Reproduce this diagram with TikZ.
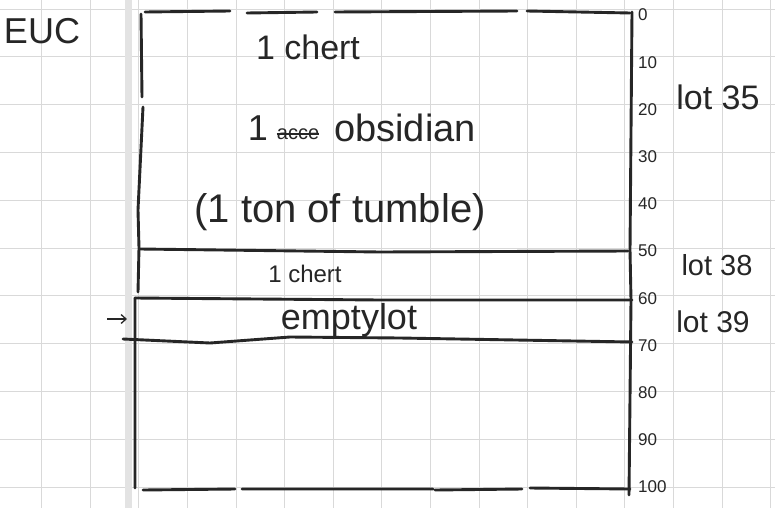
\documentclass[tikz,border=0pt]{standalone}
\usepackage{fontspec}
\setmainfont{Liberation Sans}
\usepackage{xcolor}
\usepackage{tikz}
\usetikzlibrary{arrows.meta}

\tikzset{
  pen/.style={line width=2.9pt, color=black!85, line cap=round, line join=round},
  hand/.style={inner sep=0pt, color=black!85},
}

\begin{document}
\begin{tikzpicture}[x=1pt,y=-1pt]
    \useasboundingbox (0,0) rectangle (775,508);
    \fill[white] (0,0) rectangle (775,508);
    \foreach \k in {0,...,16} \draw[color=gray!30, line width=0.9pt] ({-7+48.6*\k},0) -- ({-7+48.6*\k},508);
    \foreach \k in {0,...,10} \draw[color=gray!30, line width=0.9pt] (0,{9+47.8*\k}) -- (775,{9+47.8*\k});
    \fill[gray!22] (125,0) rectangle (132,508);

    \draw[pen] (145,12) -- (230,11) (247,13) -- (317,12) (335,12) -- (517,11) (527,11) -- (630,13);
    \draw[pen] (143,490) -- (235,489) (242,489) -- (433,489) (435,490) -- (522,489) (530,488) -- (630,489);
    \draw[pen] (141,14) -- (142,97) (143,107) -- (138,210) -- (139,248) -- (138,292) (135,298) -- (135,488);
    \draw[pen] (632,12) -- (630,250) -- (631,300) -- (629,495);
    \draw[pen] (140,249) -- (380,252) -- (628,251);
    \draw[pen] (135,298) -- (380,300) -- (632,300);
    \draw[pen] (123,339) -- (210,343) -- (290,337) -- (400,338) -- (632,342);

    \node[hand, font=\fontsize{36}{36}\selectfont] (euc) at (42,31) {EUC};
    \node[hand, font=\fontsize{34}{34}\selectfont] (chertA) at (308,47) {1 chert};
    \node[hand, font=\fontsize{36}{36}\selectfont] (one) at (258,128) {1};
    \node[hand, font=\fontsize{20}{20}\selectfont] (scrib) at (298,134) {acce};
    \draw[line width=1.4pt, color=black!85] (scrib.west) -- (scrib.east);
    \node[hand, font=\fontsize{38}{38}\selectfont, anchor=west] (obsidian) at (334,128) {obsidian};
    \node[hand, font=\fontsize{40}{40}\selectfont] (tumble) at (340,212) {(1 ton of tumble)};
    \node[hand, font=\fontsize{24}{24}\selectfont] (chertB) at (305,274) {1 chert};
    \node[hand, font=\fontsize{36}{36}\selectfont] (empty) at (349,320) {emptylot};

    \coordinate (arrowtail) at (107,319);
    \coordinate (arrowhead) at (127,319);
    \draw[-{Straight Barb[length=5pt,width=9pt]}, line width=1.3pt, color=black!85] (arrowtail) -- (arrowhead);

    \foreach \v in {0,10,...,100}
        \node[hand, anchor=west, font=\fontsize{17}{17}\selectfont] (tick\v) at (638,{15+4.72*\v}) {\v};

    \node[hand, font=\fontsize{34}{34}\selectfont] (lotA) at (718,97) {lot 35};
    \node[hand, font=\fontsize{29}{29}\selectfont] (lotB) at (717,265) {lot 38};
    \node[hand, font=\fontsize{30}{30}\selectfont] (lotC) at (713,322) {lot 39};
\end{tikzpicture}
\end{document}
